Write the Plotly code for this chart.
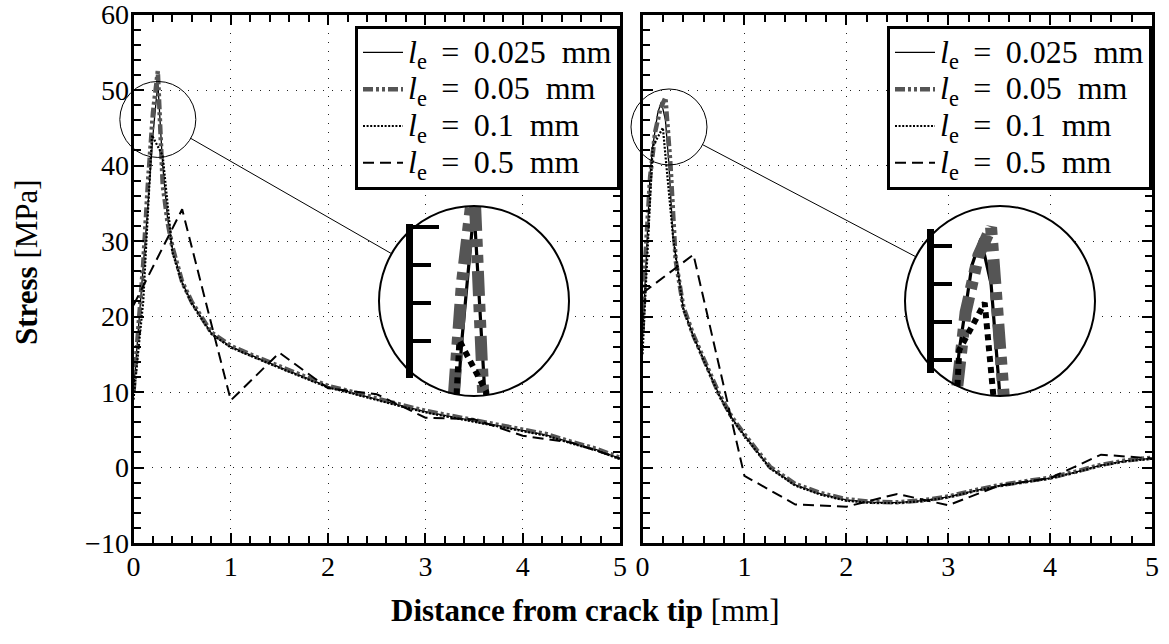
import math
import plotly.graph_objects as go

W, H = 1169, 644

# ---------------- data ----------------
# left panel
xL_025 = [0, 0.05, 0.1, 0.15, 0.2, 0.25, 0.3, 0.35, 0.4, 0.5, 0.6, 0.8, 1.0, 1.25, 1.5, 1.75, 2.0,
          2.25, 2.5, 2.75, 3.0, 3.25, 3.5, 3.75, 4.0, 4.25, 4.5, 4.75, 5.0]
yL_025 = [10, 18, 26, 35, 44, 51, 40, 33, 29, 24.5, 21.8, 17.8, 16.0, 14.6, 13.3, 12.0, 10.7,
          9.9, 9.0, 8.2, 7.4, 6.8, 6.2, 5.6, 5.0, 4.3, 3.3, 2.4, 1.2]
xL_05 = [0, 0.05, 0.1, 0.15, 0.2, 0.25, 0.3, 0.35, 0.4, 0.5, 0.6, 0.8, 1.0, 1.25, 1.5, 1.75, 2.0,
         2.25, 2.5, 2.75, 3.0, 3.25, 3.5, 3.75, 4.0, 4.25, 4.5, 4.75, 5.0]
yL_05 = [10, 18, 27, 38, 47, 52.5, 37.5, 32.5, 29.2, 24.6, 21.9, 17.9, 16.1, 14.7, 13.4, 12.1, 10.8,
         10.0, 9.1, 8.3, 7.5, 6.9, 6.3, 5.7, 5.1, 4.4, 3.4, 2.5, 1.3]
xL_1 = [0, 0.1, 0.19, 0.3, 0.4, 0.5, 0.6, 0.8, 1.0, 1.25, 1.5, 1.75, 2.0, 2.25, 2.5, 2.75, 3.0,
        3.25, 3.5, 3.75, 4.0, 4.25, 4.5, 4.75, 5.0]
yL_1 = [9, 22, 44, 41.3, 28.5, 24.4, 21.7, 17.7, 15.9, 14.5, 13.2, 11.9, 10.6, 9.8, 8.9, 8.1, 7.3,
        6.7, 6.1, 5.5, 4.9, 4.2, 3.2, 2.3, 1.1]
xL_5 = [0, 0.5, 1.0, 1.5, 2.0, 2.5, 3.0, 3.5, 4.0, 4.5, 5.0]
yL_5 = [21.5, 34.2, 8.9, 15.2, 10.5, 9.7, 6.6, 6.4, 4.2, 3.3, 1.2]

# right panel
xR_025 = [0, 0.025, 0.05, 0.075, 0.1, 0.15, 0.185, 0.225, 0.26, 0.3, 0.35, 0.4, 0.5, 0.6, 0.75,
          0.875, 1.0, 1.25, 1.5, 1.75, 2.0, 2.25, 2.5, 2.75, 3.0, 3.25, 3.5, 3.75, 4.0, 4.25,
          4.5, 4.75, 5.0]
yR_025 = [17, 25, 32, 39, 42.5, 47, 48.4, 46, 40, 30.5, 25.8, 21.2, 17.4, 14.3, 9.7,
          6.6, 4.3, 0.0, -2.3, -3.5, -4.3, -4.6, -4.65, -4.4, -3.9, -3.1, -2.4, -1.9, -1.4, -0.6,
          0.3, 0.9, 1.2]
xR_05 = [0, 0.025, 0.075, 0.125, 0.175, 0.225, 0.275, 0.325, 0.4, 0.5, 0.6, 0.75, 0.875, 1.0,
         1.25, 1.5, 1.75, 2.0, 2.25, 2.5, 2.75, 3.0, 3.25, 3.5, 3.75, 4.0, 4.25, 4.5, 4.75, 5.0]
yR_05 = [18, 27, 38.5, 44.5, 47.5, 49, 40, 27.5, 21.3, 17.5, 14.4, 9.8, 6.7, 4.4,
         0.1, -2.2, -3.4, -4.2, -4.55, -4.6, -4.35, -3.85, -3.05, -2.35, -1.85, -1.35, -0.55, 0.35,
         0.95, 1.3]
xR_1 = [0, 0.1, 0.2, 0.3, 0.4, 0.5, 0.6, 0.75, 0.875, 1.0, 1.25, 1.5, 1.75, 2.0, 2.25, 2.5, 2.75,
        3.0, 3.25, 3.5, 3.75, 4.0, 4.25, 4.5, 4.75, 5.0]
yR_1 = [15, 42.5, 45, 30.5, 21.0, 17.3, 14.2, 9.6, 6.5, 4.2, -0.1, -2.4, -3.6, -4.4, -4.7, -4.7,
        -4.45, -3.95, -3.15, -2.45, -1.95, -1.45, -0.65, 0.25, 0.85, 1.15]
xR_5 = [0, 0.5, 1.0, 1.5, 2.0, 2.5, 3.0, 3.5, 4.0, 4.5, 5.0]
yR_5 = [23.1, 28.2, -1.1, -4.9, -5.2, -3.5, -5.0, -2.4, -1.4, 1.7, 1.2]

series_labels = ["0.025", "0.05", "0.1", "0.5"]
x_ticks = [0, 1, 2, 3, 4, 5]
y_ticks = [-10, 0, 10, 20, 30, 40, 50, 60]

left_series = [(xL_025, yL_025), (xL_05, yL_05), (xL_1, yL_1), (xL_5, yL_5)]
right_series = [(xR_025, yR_025), (xR_05, yR_05), (xR_1, yR_1), (xR_5, yR_5)]

# ---------------- styles / layout geometry ----------------
FONT = "Liberation Serif"
GRAY = "#555555"
styles = [
    dict(color="black", width=1.3, dash="solid", iw=3.2, idash="solid"),
    dict(color=GRAY, width=4.5, dash="10px,3px,3px,3px,3px,3px", iw=12,
         idash="25px,8px,8px,8px,8px,8px"),
    dict(color="black", width=2.2, dash="2px,1.6px", iw=6, idash="6px,5px"),
    dict(color="black", width=2.0, dash="11px,6px", iw=5, idash="27px,15px"),
]

PT, PB = 14.5, 543.0           # plot area top / bottom (px)
panels = [
    dict(x0=133.5, x1=620.0, xa="x", ya="y", legend="legend", series=left_series),
    dict(x0=642.5, x1=1152.0, xa="x2", ya="y2", legend="legend2", series=right_series),
]
XMIN, XMAX, YMIN, YMAX = 0, 5, -10, 60
SY = (PB - PT) / (YMAX - YMIN)

# magnifier definitions: data centre of the spy region, small radius, big circle centre
insets = [
    dict(panel=0, xc=0.25, yc=46.1, r=38, cx=474, cy=301, R=95, xa="x3", ya="y3", fxa="x4", fya="y4"),
    dict(panel=1, xc=0.26, yc=45.1, r=38, cx=1000, cy=301, R=95, xa="x5", ya="y5", fxa="x6", fya="y6"),
]


def clip_circle(xs, ys, xc, yc, rx, ry):
    """Clip a polyline to an ellipse (circle on screen) centred at (xc, yc)."""
    u = [(x - xc) / rx for x in xs]
    v = [(y - yc) / ry for y in ys]
    ox, oy = [], []
    last_end = None
    for i in range(len(u) - 1):
        du, dv = u[i + 1] - u[i], v[i + 1] - v[i]
        a = du * du + dv * dv
        b = 2 * (u[i] * du + v[i] * dv)
        c = u[i] ** 2 + v[i] ** 2 - 1
        disc = b * b - 4 * a * c
        if a == 0 or disc <= 0:
            continue
        s = math.sqrt(disc)
        t0 = max(0.0, (-b - s) / (2 * a))
        t1 = min(1.0, (-b + s) / (2 * a))
        if t0 >= t1:
            continue
        p0 = (xc + (u[i] + t0 * du) * rx, yc + (v[i] + t0 * dv) * ry)
        p1 = (xc + (u[i] + t1 * du) * rx, yc + (v[i] + t1 * dv) * ry)
        if last_end == i and t0 == 0.0:
            ox.append(p1[0]); oy.append(p1[1])
        else:
            if ox:
                ox.append(None); oy.append(None)
            ox += [p0[0], p1[0]]; oy += [p0[1], p1[1]]
        last_end = i + 1 if t1 == 1.0 else None
    return ox, oy


fig = go.Figure()

# main curves
for p in panels:
    for (xs, ys), lab, st in zip(p["series"], series_labels, styles):
        fig.add_trace(go.Scatter(
            x=xs, y=ys, mode="lines", xaxis=p["xa"], yaxis=p["ya"],
            name=("<span style='font-size:32px'><i>l</i><sub>e</sub>\u2009 = \u2009"
                  + lab + "\u00a0\u00a0mm</span>"),
            legend=p["legend"],
            line=dict(color=st["color"], width=st["width"], dash=st["dash"]),
            hoverinfo="skip"))

axis_common = dict(
    showline=True, linecolor="black", linewidth=3, mirror="ticks",
    ticks="inside", ticklen=10, tickwidth=1.6, tickcolor="black",
    showgrid=True, gridcolor="#222222", gridwidth=1.1, griddash="1.3px,7.7px",
    zeroline=False, tickfont=dict(family=FONT, size=28, color="black"),
    ticklabeloverflow="allow", fixedrange=True,
)

layout = dict(
    width=W, height=H, margin=dict(l=0, r=0, t=0, b=0, pad=0, autoexpand=False),
    paper_bgcolor="white", plot_bgcolor="rgba(0,0,0,0)",
    font=dict(family=FONT, color="black"),
    shapes=[], annotations=[],
)

for i, p in enumerate(panels):
    sfx = "" if i == 0 else str(i + 1)
    layout["xaxis" + sfx] = dict(
        axis_common, domain=[p["x0"] / W, p["x1"] / W], range=[XMIN, XMAX],
        tickmode="array", tickvals=x_ticks, ticktext=[str(v) for v in x_ticks],
        anchor=p["ya"], ticklabelstandoff=-4,
        minor=dict(ticks="inside", ticklen=7, tickwidth=1.6, tickcolor="black",
                   dtick=0.2, tick0=0, showgrid=False))
    layout["yaxis" + sfx] = dict(
        axis_common, domain=[1 - PB / H, 1 - PT / H], range=[YMIN, YMAX],
        tickmode="array", tickvals=y_ticks,
        ticktext=[("\u2212" + str(-v)) if v < 0 else str(v) for v in y_ticks],
        showticklabels=(i == 0), anchor=p["xa"], ticklabelstandoff=-4,
        minor=dict(ticks="inside", ticklen=7, tickwidth=1.6, tickcolor="black",
                   dtick=2, tick0=0, showgrid=False))
    layout[p["legend"]] = dict(
        x=p["x1"] / W, xanchor="right", y=1 - 26 / H, yanchor="top",
        bgcolor="white", bordercolor="black", borderwidth=3,
        font=dict(family=FONT, size=26, color="black"),
        itemwidth=40, traceorder="normal")

# magnifiers
for k, ins in enumerate(insets):
    p = panels[ins["panel"]]
    sx_main = (p["x1"] - p["x0"]) / (XMAX - XMIN)
    mag = ins["R"] / ins["r"]
    sx, sy = sx_main * mag, SY * mag
    R, cx, cy = ins["R"], ins["cx"], ins["cy"]
    rx, ry = R / sx, R / sy
    xa_n, ya_n = ins["xa"][1:], ins["ya"][1:]
    layout["xaxis" + xa_n] = dict(domain=[(cx - R) / W, (cx + R) / W],
                                  range=[ins["xc"] - rx, ins["xc"] + rx],
                                  visible=False, anchor=ins["ya"], fixedrange=True)
    layout["yaxis" + ya_n] = dict(domain=[1 - (cy + R) / H, 1 - (cy - R) / H],
                                  range=[ins["yc"] - ry, ins["yc"] + ry],
                                  visible=False, anchor=ins["xa"], fixedrange=True)
    # white disc hiding the main plot under the magnifier
    layout["shapes"].append(dict(type="circle", xref=ins["xa"], yref=ins["ya"], layer="below",
                                 x0=ins["xc"] - rx, x1=ins["xc"] + rx,
                                 y0=ins["yc"] - ry, y1=ins["yc"] + ry,
                                 fillcolor="white", line=dict(width=0)))
    # magnified curves
    for (xs, ys), st in zip(p["series"], styles):
        cxs, cys = clip_circle(xs, ys, ins["xc"], ins["yc"], rx, ry)
        fig.add_trace(go.Scatter(
            x=cxs, y=cys, mode="lines", xaxis=ins["xa"], yaxis=ins["ya"],
            showlegend=False, hoverinfo="skip", connectgaps=False,
            line=dict(color=st["color"], width=st["iw"], dash=st["idash"])))
    # magnified left frame of the axes (x = 0) with its ticks
    fx = cx + (XMIN - ins["xc"]) * sx
    h = math.sqrt(max(R * R - (fx - cx) ** 2, 0)) + 4
    fxa_n, fya_n = ins["fxa"][1:], ins["fya"][1:]
    layout["xaxis" + fxa_n] = dict(domain=[fx / W, (fx + 4) / W], range=[0, 1],
                                   visible=False, anchor=ins["fya"], fixedrange=True)
    layout["yaxis" + fya_n] = dict(
        domain=[1 - (cy + h) / H, 1 - (cy - h) / H],
        range=[ins["yc"] - h / sy, ins["yc"] + h / sy],
        anchor=ins["fxa"], side="left", showline=True, linecolor="black", linewidth=7,
        ticks="inside", ticklen=26, tickwidth=4, tickcolor="black",
        tickmode="linear", tick0=0, dtick=10, showticklabels=False,
        showgrid=False, zeroline=False, fixedrange=True,
        minor=dict(ticks="inside", ticklen=18, tickwidth=4, tickcolor="black",
                   dtick=2, tick0=0, showgrid=False))
    fig.add_trace(go.Scatter(x=[], y=[], xaxis=ins["fxa"], yaxis=ins["fya"],
                             showlegend=False, hoverinfo="skip"))
    # outlines: big circle, small spy circle and connector
    layout["shapes"].append(dict(type="circle", xref="paper", yref="paper", layer="above",
                                 x0=(cx - R) / W, x1=(cx + R) / W,
                                 y0=1 - (cy + R) / H, y1=1 - (cy - R) / H,
                                 line=dict(color="black", width=2)))
    scx = p["x0"] + (ins["xc"] - XMIN) * sx_main
    scy = PT + (YMAX - ins["yc"]) * SY
    r = ins["r"]
    layout["shapes"].append(dict(type="circle", xref="paper", yref="paper", layer="above",
                                 x0=(scx - r) / W, x1=(scx + r) / W,
                                 y0=1 - (scy + r) / H, y1=1 - (scy - r) / H,
                                 line=dict(color="black", width=1)))
    dx, dy = cx - scx, cy - scy
    L = math.hypot(dx, dy)
    ux, uy = dx / L, dy / L
    layout["shapes"].append(dict(type="line", xref="paper", yref="paper", layer="above",
                                 x0=(scx + r * ux) / W, y0=1 - (scy + r * uy) / H,
                                 x1=(cx - R * ux) / W, y1=1 - (cy - R * uy) / H,
                                 line=dict(color="black", width=1)))

# axis titles
layout["annotations"] += [
    dict(text="<b>Stress</b> [MPa]", xref="paper", yref="paper", x=27 / W, y=1 - 262 / H,
         textangle=-90, showarrow=False, xanchor="center", yanchor="middle",
         font=dict(family=FONT, size=31, color="black")),
    dict(text="<b>Distance from crack tip</b> [mm]", xref="paper", yref="paper",
         x=585 / W, y=1 - 610 / H, showarrow=False, xanchor="center", yanchor="middle",
         font=dict(family=FONT, size=31, color="black")),
]

fig.update_layout(**layout)
fig.write_html("out.html")
